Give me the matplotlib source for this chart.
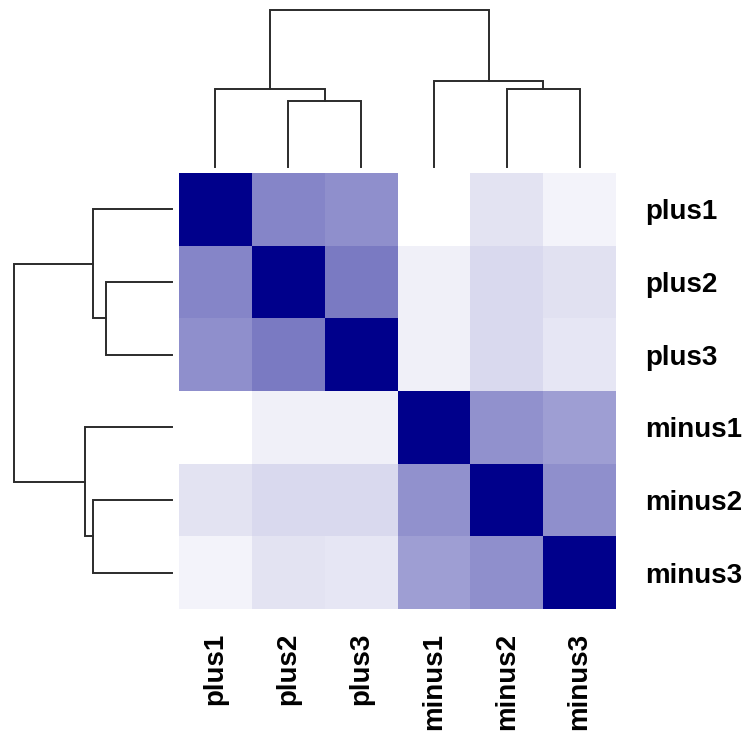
import numpy as np
import matplotlib
matplotlib.use("Agg")
import matplotlib.pyplot as plt
from matplotlib.colors import LinearSegmentedColormap

# etiquetas de las muestras (orden del dendrograma)
muestras = ["plus1", "plus2", "plus3", "minus1", "minus2", "minus3"]

# matriz de similitud (0 = blanco, 1 = azul oscuro)
similitud = np.array([
    [1.00, 0.48, 0.44, 0.00, 0.11, 0.05],
    [0.48, 1.00, 0.52, 0.06, 0.15, 0.12],
    [0.44, 0.52, 1.00, 0.06, 0.15, 0.10],
    [0.00, 0.06, 0.06, 1.00, 0.43, 0.38],
    [0.11, 0.15, 0.15, 0.43, 1.00, 0.44],
    [0.05, 0.11, 0.10, 0.38, 0.44, 1.00],
])

# uniones del dendrograma: (nodo_a, nodo_b, altura); hojas 0..5, nodos nuevos 6..
uniones = [
    (1, 2, 0.42),   # plus2 + plus3
    (4, 5, 0.50),   # minus2 + minus3
    (0, 6, 0.50),   # plus1 + (plus2, plus3)
    (3, 7, 0.55),   # minus1 + (minus2, minus3)
    (8, 9, 1.00),   # raiz
]

plt.rcParams['font.family'] = ['Liberation Sans', 'DejaVu Sans']

fig = plt.figure(figsize=(7.49, 7.39), dpi=100)
W, H = 749, 739

def caja(x0, y0, x1, y1):
    return [x0 / W, 1 - y1 / H, (x1 - x0) / W, (y1 - y0) / H]

ax = fig.add_axes(caja(179, 173, 616, 609))
ax_top = fig.add_axes(caja(179, 10, 616, 167))
ax_izq = fig.add_axes(caja(14, 173, 172, 609))

cmap = LinearSegmentedColormap.from_list("azul", ["#ffffff", "#00008b"])
ax.pcolormesh(similitud, cmap=cmap, vmin=0, vmax=1)
ax.set_xlim(0, 6)
ax.set_ylim(6, 0)
ax.set_xticks(np.arange(6) + 0.5)
ax.set_yticks(np.arange(6) + 0.5)
ax.set_xticklabels(muestras, rotation=90, fontsize=20, fontweight='bold')
ax.set_yticklabels(muestras, fontsize=20, fontweight='bold')
ax.yaxis.tick_right()
ax.tick_params(axis='y', length=0, pad=21)
ax.tick_params(axis='x', length=0, pad=17)
for s in ax.spines.values():
    s.set_visible(False)

# dendrograma dibujado a mano
pos = {i: i + 0.5 for i in range(6)}
alt = {i: 0.0 for i in range(6)}
segmentos = []
for k, (a, b, h) in enumerate(uniones):
    segmentos.append(((pos[a], alt[a]), (pos[a], h), (pos[b], h), (pos[b], alt[b])))
    pos[6 + k] = (pos[a] + pos[b]) / 2
    alt[6 + k] = h

color_linea = "#2b2b2b"
for seg in segmentos:
    xs = [p[0] for p in seg]
    ys = [p[1] for p in seg]
    ax_top.plot(xs, ys, color=color_linea, lw=1.4, clip_on=False,
                solid_joinstyle='miter')
    ax_izq.plot(ys, xs, color=color_linea, lw=1.4, clip_on=False,
                solid_joinstyle='miter')

ax_top.set_xlim(0, 6)
ax_top.set_ylim(0, 1)
ax_izq.set_ylim(6, 0)
ax_izq.set_xlim(1, 0)
for a in (ax_top, ax_izq):
    a.axis('off')

plt.savefig("out.png", dpi=100)
